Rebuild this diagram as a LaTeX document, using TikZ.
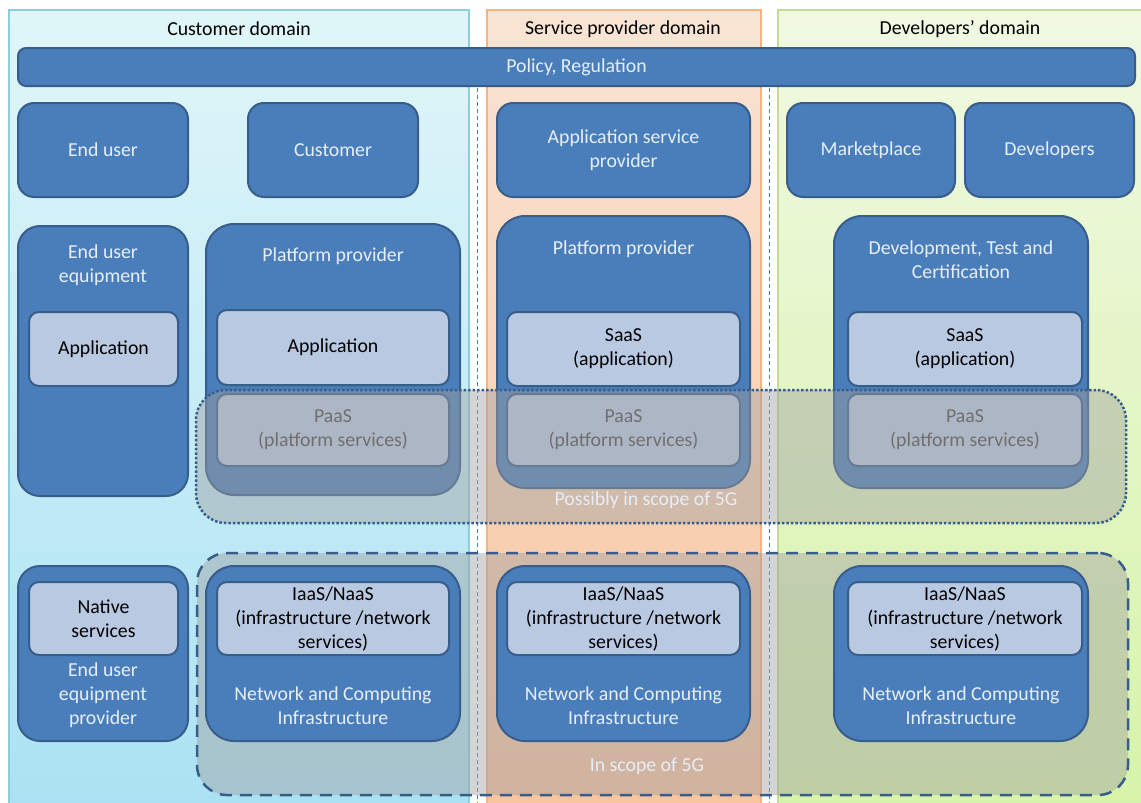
\documentclass[tikz,border=0pt]{standalone}
\usepackage{fontspec}
\setmainfont{Carlito}
\usepackage{tikz}

\definecolor{boxblue}{RGB}{74,126,187}
\definecolor{boxedge}{RGB}{56,93,138}
\definecolor{svcfill}{RGB}{185,201,226}
\definecolor{boxtext}{RGB}{232,238,246}
\definecolor{custtop}{RGB}{224,246,249}
\definecolor{custbot}{RGB}{170,226,243}
\definecolor{sptop}{RGB}{249,228,212}
\definecolor{spbot}{RGB}{248,196,158}
\definecolor{devtop}{RGB}{240,248,226}
\definecolor{devbot}{RGB}{214,244,168}
\definecolor{custedge}{RGB}{140,206,222}
\definecolor{spedge}{RGB}{246,178,128}
\definecolor{devedge}{RGB}{196,218,150}
\definecolor{scopegray}{RGB}{160,160,160}
\definecolor{paastext}{RGB}{72,72,72}

\tikzset{
  every node/.style={font=\fontsize{19.8}{24}\selectfont},
  domainbox/.style={line width=1.2pt},
  actor/.style={draw=boxedge, fill=boxblue, text=boxtext, line width=2pt,
    rounded corners=16pt, align=center, inner sep=0pt},
  platform/.style={actor, rounded corners=28pt},
  service/.style={draw=boxedge, fill=svcfill, text=black, line width=2pt,
    rounded corners=10pt, align=center, inner sep=0pt},
  paas/.style={service, text=paastext},
  scopearea/.style={draw=boxedge, fill=scopegray, fill opacity=0.45,
    line width=2.5pt, rounded corners=30pt, inner sep=0pt},
  boxtitle/.style={text=boxtext, align=center},
  divider/.style={draw=boxblue, dash pattern=on 4pt off 3pt, line width=1pt},
}

\begin{document}
\begin{tikzpicture}[x=1pt,y=-1pt]
\useasboundingbox (0,0) rectangle (1141,803);

\draw[domainbox, draw=custedge, top color=custtop, bottom color=custbot]
    (9,10) rectangle (469,815);
\draw[domainbox, draw=spedge, top color=sptop, bottom color=spbot]
    (487,10) rectangle (761,815);
\draw[domainbox, draw=devedge, top color=devtop, bottom color=devbot]
    (778,10) rectangle (1150,815);
\draw[divider] (477,88) -- (477,803);
\draw[divider] (769,88) -- (769,803);

\node (custdom) at (239,29) {Customer domain};
\node (spdom) at (623,29) {Service provider domain};
\node (devdom) at (960,29) {Developers’ domain};

\node[actor, rounded corners=8pt, minimum width=1117pt, minimum height=38pt]
    (policy) at (576.5,67) {Policy, Regulation};

\node[actor, minimum width=170pt, minimum height=94pt] (enduser) at (103,150) {End user};
\node[actor, minimum width=170pt, minimum height=94pt] (customer) at (333,150) {Customer};
\node[actor, minimum width=253pt, minimum height=94pt] (appsp) at (623.5,150)
    {Application service\\provider};
\node[actor, minimum width=168pt, minimum height=94pt] (market) at (871,150) {Marketplace};
\node[actor, minimum width=169pt, minimum height=94pt] (devs) at (1049.5,150) {Developers};

\node[scopearea, dashed, dash pattern=on 12pt off 8pt, minimum width=931pt, minimum height=242pt]
    (inscope) at (662.5,674) {};
\node[text=boxtext] (inscopetext) at (647,766) {In scope of 5G};

\node[platform, rounded corners=22pt, minimum width=170pt, minimum height=270pt] (eue) at (103,361) {};
\node[boxtitle] (euetitle) at (103,265.5) {End user\\equipment};
\node[service, minimum width=149pt, minimum height=74pt] (eueapp) at (103.5,349) {Application};

\node[platform, minimum width=254pt, minimum height=271pt] (pp1) at (333,359.5) {};
\node[boxtitle] (pp1title) at (333,256) {Platform provider};
\node[service, minimum width=232pt, minimum height=75pt] (pp1app) at (333,347.5) {Application};
\node[paas, minimum width=232pt, minimum height=72pt] (pp1paas) at (333,430)
    {PaaS\\(platform services)};

\node[platform, minimum width=253pt, minimum height=272pt] (pp2) at (623.5,352) {};
\node[boxtitle] (pp2title) at (623.5,249) {Platform provider};
\node[service, minimum width=233pt, minimum height=74pt] (pp2saas) at (623.5,349)
    {SaaS\\(application)};
\node[paas, minimum width=233pt, minimum height=72pt] (pp2paas) at (623.5,430)
    {PaaS\\(platform services)};

\node[platform, minimum width=254pt, minimum height=272pt] (dtc) at (961,352) {};
\node[boxtitle] (dtctitle) at (961,259.5) {Development, Test and\\Certification};
\node[service, minimum width=234pt, minimum height=74pt] (dtcsaas) at (965,349)
    {SaaS\\(application)};
\node[paas, minimum width=234pt, minimum height=72pt] (dtcpaas) at (965,430)
    {PaaS\\(platform services)};

\node[platform, rounded corners=22pt, minimum width=170pt, minimum height=175pt] (eueprov) at (103,653.5) {};
\node[service, minimum width=149pt, minimum height=73pt] (native) at (103.5,618.5)
    {Native\\services};
\node[boxtitle] (eueprovtitle) at (103,695) {End user\\equipment\\provider};

\node[platform, minimum width=254pt, minimum height=175pt] (nci1) at (333,653.5) {};
\node[service, minimum width=232pt, minimum height=73pt] (iaas1) at (333,618.5)
    {IaaS/NaaS\\(infrastructure /network\\services)};
\node[boxtitle] (nci1title) at (333,706) {Network and Computing\\Infrastructure};

\node[platform, minimum width=253pt, minimum height=175pt] (nci2) at (623.5,653.5) {};
\node[service, minimum width=233pt, minimum height=73pt] (iaas2) at (623.5,618.5)
    {IaaS/NaaS\\(infrastructure /network\\services)};
\node[boxtitle] (nci2title) at (623.5,706) {Network and Computing\\Infrastructure};

\node[platform, minimum width=254pt, minimum height=175pt] (nci3) at (961,653.5) {};
\node[service, minimum width=234pt, minimum height=73pt] (iaas3) at (965,618.5)
    {IaaS/NaaS\\(infrastructure /network\\services)};
\node[boxtitle] (nci3title) at (961,706) {Network and Computing\\Infrastructure};

\node[scopearea, dotted, minimum width=930pt, minimum height=133pt]
    (possible) at (661,456.5) {};
\node[text=boxtext] (possibletext) at (646,500) {Possibly in scope of 5G};
\end{tikzpicture}
\end{document}
